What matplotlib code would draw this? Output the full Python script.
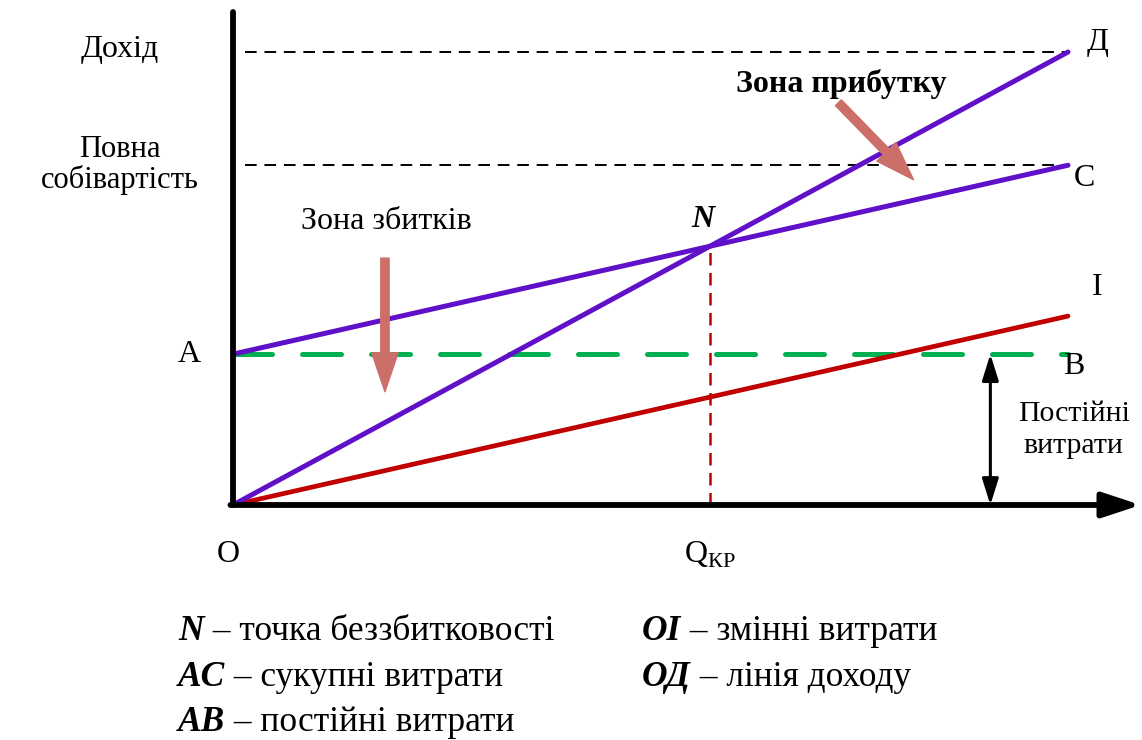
import matplotlib.pyplot as plt

plt.rcParams['font.family'] = ['Liberation Serif', 'DejaVu Serif']

# дані (умовні одиниці)
q = [0, 10]                 # обсяг виробництва
revenue = [0, 10]           # лінія доходу ОД
fixed_costs = [3.33, 3.33]  # постійні витрати АВ
total_costs = [3.33, 7.5]   # сукупні витрати АС
variable_costs = [0, 4.17]  # змінні витрати ОІ
q_kr = 5.71                 # точка беззбитковості
n_level = 5.71

legend_left = [('N', ' – точка беззбитковості'),
               ('AC', ' – сукупні витрати'),
               ('AB', ' – постійні витрати')]
legend_right = [('OI', ' – змінні витрати'),
                ('ОД', ' – лінія доходу')]

fig = plt.figure(figsize=(11.42, 7.40), dpi=100)
ax = fig.add_axes([0, 0, 1, 1])
ax.set_xlim(-2.79, 10.886)
ax.set_ylim(-5.188, 11.148)
ax.axis('off')

purple = '#6010C8'
red = '#C00000'
green = '#00B050'
salmon = '#CD6F69'

# допоміжні пунктирні лінії
ax.plot([0.14, 10], [revenue[1], revenue[1]], color='black', lw=1.4,
        dashes=(6, 4))
ax.plot([0.14, 10], [total_costs[1], total_costs[1]], color='black', lw=1.4,
        dashes=(6, 4))
ax.plot([q_kr, q_kr], [0, n_level], color=red, lw=1.8, dashes=(5, 3))

# лінії
ax.plot(q, fixed_costs, color=green, lw=3.6, dashes=(7.8, 6),
        dash_capstyle='round')
ax.plot(q, variable_costs, color=red, lw=3.4, solid_capstyle='round')
ax.plot(q, total_costs, color=purple, lw=3.6, solid_capstyle='round')
ax.plot(q, revenue, color=purple, lw=3.6, solid_capstyle='round')

# осі
ax.annotate('', xy=(10.87, 0), xytext=(-0.03, 0),
            arrowprops=dict(arrowstyle='-|>,head_length=2.3,head_width=0.76',
                            color='black', lw=4.2, shrinkA=0, shrinkB=0))
ax.plot([0, 0], [0, 10.88], color='black', lw=4.2, solid_capstyle='round')

# постійні витрати (подвійна стрілка)
ax.annotate('', xy=(9.07, fixed_costs[0]), xytext=(9.07, 0),
            arrowprops=dict(arrowstyle='<|-|>,head_length=1.6,head_width=0.5',
                            color='black', lw=2.2, shrinkA=0, shrinkB=0))

# стрілки зон
zone_arrow = 'simple,head_length=2.8,head_width=1.9,tail_width=0.6'
ax.annotate('', xy=(1.82, 2.5), xytext=(1.82, 5.45),
            arrowprops=dict(arrowstyle=zone_arrow, mutation_scale=10,
                            color=salmon, shrinkA=0, shrinkB=0))
ax.annotate('', xy=(8.15, 7.18), xytext=(7.25, 8.88),
            arrowprops=dict(arrowstyle=zone_arrow, mutation_scale=10,
                            color=salmon, shrinkA=0, shrinkB=0))

fs = 23
ax.text(-1.35, 10.05, 'Дохід', fontsize=fs, ha='center', va='center')
ax.text(-1.35, 7.5, 'Повна\nсобівартість', fontsize=22, ha='center',
        va='center', linespacing=1.05)
ax.text(-0.52, 3.33, 'A', fontsize=fs, ha='center', va='center')
ax.text(-0.05, -1.1, 'O', fontsize=fs, ha='center', va='center')
ax.text(q_kr, -1.1, r'Q$_{\mathregular{КР}}$', fontsize=fs, ha='center',
        va='center')
ax.text(10.35, 10.2, 'Д', fontsize=fs, ha='center', va='center')
ax.text(10.2, 7.2, 'C', fontsize=fs, ha='center', va='center')
ax.text(10.35, 4.8, 'I', fontsize=fs, ha='center', va='center')
ax.text(10.07, 3.05, 'B', fontsize=fs, ha='center', va='center')
ax.text(10.07, 1.65, 'Постійні\nвитрати', fontsize=21.5, ha='center',
        va='center', linespacing=1.3)
ax.text(5.63, 6.3, 'N', fontsize=fs, ha='center', va='center',
        fontweight='bold', fontstyle='italic')
ax.text(1.84, 6.25, 'Зона збитків', fontsize=fs, ha='center', va='center')
ax.text(7.29, 9.3, 'Зона прибутку', fontsize=fs, ha='center', va='center',
        fontweight='bold')

# легенда
lfs = 25.5
baselines = [1 - 640 / 740, 1 - 686 / 740, 1 - 731 / 740]
for i, (key, desc) in enumerate(legend_left):
    y = baselines[i]
    t = fig.text(178 / 1142, y, key, fontsize=lfs, fontweight='bold',
                 fontstyle='italic', va='baseline')
    fig.canvas.draw()
    bb = t.get_window_extent()
    fig.text(bb.x1 / 1142, y, desc, fontsize=lfs, va='baseline')
for i, (key, desc) in enumerate(legend_right):
    y = baselines[i]
    t = fig.text(642 / 1142, y, key, fontsize=lfs, fontweight='bold',
                 fontstyle='italic', va='baseline')
    fig.canvas.draw()
    bb = t.get_window_extent()
    fig.text(bb.x1 / 1142, y, desc, fontsize=lfs, va='baseline')

fig.savefig('out.png', dpi=100)
